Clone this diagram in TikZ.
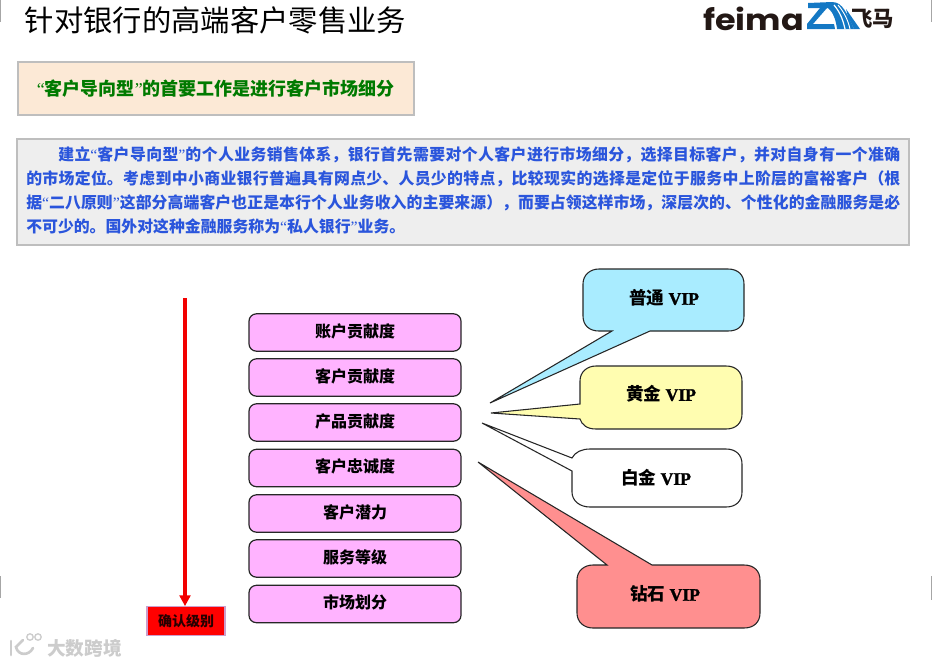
\documentclass[tikz,border=0pt]{standalone}
\usepackage{fontspec}
\usetikzlibrary{arrows.meta}
\setmainfont{Liberation Serif}
\newfontfamily\cjk{Noto Sans CJK SC}
\newfontfamily\logofont{Poppins}
\newfontfamily\vipfont[BoldFeatures={FakeBold=1.5}]{Liberation Serif}
\XeTeXlinebreaklocale "zh"
\XeTeXlinebreakskip=0pt plus 1pt
\definecolor{edgegray}{HTML}{BEBEBE}
\definecolor{headfill}{HTML}{FCE9D6}
\definecolor{headgreen}{HTML}{007A00}
\definecolor{bodyfill}{HTML}{EEEEEE}
\definecolor{bodyblue}{HTML}{2A55DC}
\definecolor{barfill}{HTML}{FFB3FF}
\definecolor{bluecall}{HTML}{A9ECFF}
\definecolor{yellowcall}{HTML}{FFFDB0}
\definecolor{redcall}{HTML}{FF8F8F}
\definecolor{logoblue}{HTML}{1478C4}
\definecolor{logoblack}{HTML}{231815}
\newcommand{\barlabel}[1]{\raisebox{-3.4pt}[0pt][0pt]{#1}}
\newcommand{\thinq}[1]{{\mdseries #1}}
\newcommand{\viptext}[1]{{\cjk\bfseries #1} {\vipfont\bfseries VIP}}
\tikzset{
  framebox/.style={draw=edgegray,line width=1.5pt,rectangle,inner sep=0pt,anchor=north west},
  barbox/.style={draw=black!85,line width=0.9pt,rounded corners=5.5pt,fill=barfill,minimum width=159pt,minimum height=28pt,inner sep=0pt,font=\cjk\bfseries\fontsize{12}{14}\selectfont},
  calltext/.style={font=\fontsize{13.2}{15}\selectfont},
  call/.style={draw=black!85,line width=0.8pt,line join=miter},
}
\begin{document}
\begin{tikzpicture}[x=0.75pt,y=-0.75pt]
\useasboundingbox (0,0) rectangle (932,665);
% edge ticks
\foreach \xa/\ya/\yb in {0.5/0/22,0.5/576/598,931.5/0/22,931.5/576/600}
  \fill[gray!70] (\xa-0.8,\ya) rectangle (\xa+0.8,\yb);
% title
\node[anchor=west,inner sep=0pt,font=\cjk\fontsize{22}{24}\selectfont] (title) at (24.5,20) {针对银行的高端客户零售业务};
% logo
\node[anchor=west,inner sep=0pt,text=logoblack,font=\logofont\bfseries\fontsize{22}{24}\selectfont] (logotext) at (703,18.5) {\scalebox{1.14}[1]{feima}};
\node[anchor=west,inner sep=0pt,text=logoblack,font=\cjk\bfseries\fontsize{16}{18}\selectfont] (logocjk) at (851,19) {飞马};
\fill[logoblue] (808,3) -- (832,2) .. controls (843,2) and (847,14) .. (854,29) -- (837,29) .. controls (836,20) and (833,12) .. (828,8) -- (808,8) -- cycle;
\fill[logoblue] (827,8) -- (813,24) -- (834,24) -- (835,29) -- (807,29) -- (807,24) -- (820,8) -- cycle;
\draw[white,line width=0.9pt] (834,5) .. controls (840,12) and (843,20) .. (845,29);
\draw[white,line width=0.7pt] (838,5) .. controls (844,12) and (848,20) .. (850,29);
\fill[logoblue] (846,9) -- (860,29) -- (854,29) -- (848,17) -- cycle;
% heading box
\node[framebox,fill=headfill,minimum width=296.5pt,minimum height=40pt] (head) at (17.2,60.5) {};
\node[text=headgreen,inner sep=0pt,font=\bfseries\fontsize{13.5}{16}\selectfont] (headtext) at (head.center) {\thinq{“}{\cjk 客户导向型}\thinq{”}{\cjk 的首要工作是进行客户市场细分}};
% body box
\node[framebox,fill=bodyfill,minimum width=669.5pt,minimum height=80pt] (body) at (15.5,137.5) {};
\node[anchor=north west,inner sep=0pt,text width=655.5pt,align=justify,text=bodyblue,font=\bfseries\fontsize{11.9}{18}\selectfont] (bodytext) at (26,146) {\parindent=24pt\hspace*{24pt}{\cjk 建立}\thinq{“}{\cjk 客户导向型}\thinq{”}{\cjk 的个人业务销售体系，银行首先需要对个人客户进行市场细分，选择目标客户，并对自身有一个准确}\linebreak {\cjk 的市场定位。考虑到中小商业银行普遍具有网点少、人员少的特点，比较现实的选择是定位于服务中上阶层的富裕客户（根}\linebreak {\cjk 据}\thinq{“}{\cjk 二八原则}\thinq{”}{\cjk 这部分高端客户也正是本行个人业务收入的主要来源），而要占领这样市场，深层次的、个性化的金融服务是必}\linebreak {\cjk 不可少的。国外对这种金融服务称为}\thinq{“}{\cjk 私人银行}\thinq{”}{\cjk 业务。}};
% metric bars
\node[barbox] (b1) at (355,332.5) {\barlabel{账户贡献度}};
\node[barbox] (b2) at (355,377.5) {\barlabel{客户贡献度}};
\node[barbox] (b3) at (355,422.5) {\barlabel{产品贡献度}};
\node[barbox] (b4) at (355,468) {\barlabel{客户忠诚度}};
\node[barbox] (b5) at (355,513.5) {\barlabel{客户潜力}};
\node[barbox] (b6) at (355,558.5) {\barlabel{服务等级}};
\node[barbox] (b7) at (355,604) {\barlabel{市场划分}};
% level box and arrow
\node[draw=barfill!60!gray,line width=0.8pt,fill=red,minimum width=58.5pt,minimum height=21.5pt,inner sep=0pt,font=\cjk\bfseries\fontsize{10.5}{12}\selectfont,text=black!85!red] (level) at (186,621) {确认级别};
\coordinate (arrowstart) at (185,298);
\draw[red!95!black,line width=3pt,-{Triangle[length=8pt,width=8pt]}] (arrowstart) -- (level.north -| arrowstart);
% callouts
\draw[call,fill=bluecall] (612,331) -- (599,331) .. controls (590,331) and (583,326) .. (583,316) -- (583,284) .. controls (583,275) and (590,269) .. (599,269) -- (728,269) .. controls (738,269) and (744,275) .. (744,284) -- (744,316) .. controls (744,326) and (738,331) .. (728,331) -- (650,331) -- (490,403) -- cycle;
\node[calltext] (t1) at (664,298) {\viptext{普通}};
\draw[call,fill=yellowcall] (580,404) -- (580,381) .. controls (580,372) and (587,366) .. (596,366) -- (726,366) .. controls (736,366) and (742,372) .. (742,381) -- (742,414) .. controls (742,423) and (736,429) .. (726,429) -- (596,429) .. controls (587,429) and (582,425) .. (580,419) -- (491,413) -- cycle;
\node[calltext] (t2) at (661,394) {\viptext{黄金}};
\draw[call,fill=white] (572,458) .. controls (575,452) and (582,449) .. (590,449) -- (726,449) .. controls (736,449) and (742,455) .. (742,464) -- (742,492) .. controls (742,501) and (736,507) .. (726,507) -- (590,507) .. controls (580,507) and (572,501) .. (572,492) -- (572,471) -- (482,423) -- cycle;
\node[calltext] (t3) at (656,478) {\viptext{白金}};
\draw[call,fill=redcall] (607,565) -- (593,565) .. controls (584,565) and (577,571) .. (577,580) -- (577,613) .. controls (577,622) and (584,628) .. (593,628) -- (744,628) .. controls (754,628) and (760,622) .. (760,613) -- (760,580) .. controls (760,571) and (754,565) .. (744,565) -- (652,565) -- (478,462) -- cycle;
\node[calltext] (t4) at (665,594) {\viptext{钻石}};
% watermark
\node[anchor=west,inner sep=0pt,text=gray!40,font=\cjk\bfseries\fontsize{14}{15}\selectfont] (mark) at (47,648) {大数跨境};
\draw[gray!40,line width=2pt,line cap=round] (11,641) -- (11,655);
\draw[gray!40,line width=2pt,line cap=round] (23,640) -- (16,647) .. controls (18,656) and (29,656) .. (33,648);
\draw[gray!40,line width=1pt] (30,637) circle (3.2) (38,637) circle (3.2);
\end{tikzpicture}
\end{document}
